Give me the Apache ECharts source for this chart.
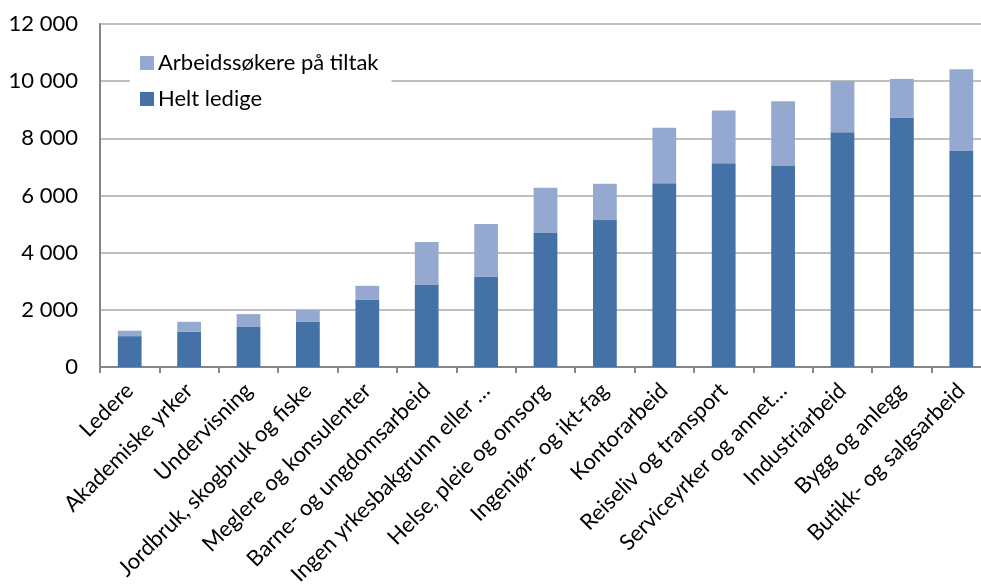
<!DOCTYPE html>
<html>
<head>
<meta charset="utf-8">
<script src="https://cdn.jsdelivr.net/npm/echarts@6/dist/echarts.min.js"></script>
<style>html,body{margin:0;padding:0;background:#fff}#c{width:981px;height:585px}</style>
</head>
<body>
<div id="c"></div>
<script>
var categories = ["Ledere","Akademiske yrker","Undervisning","Jordbruk, skogbruk og fiske","Meglere og konsulenter","Barne- og ungdomsarbeid","Ingen yrkesbakgrunn eller …","Helse, pleie og omsorg","Ingeniør- og ikt-fag","Kontorarbeid","Reiseliv og transport","Serviceyrker og annet…","Industriarbeid","Bygg og anlegg","Butikk- og salgsarbeid"];
var heltLedige = [1080,1230,1400,1580,2350,2870,3170,4690,5140,6430,7130,7030,8210,8730,7560];
var tiltak = [190,350,450,410,490,1500,1830,1580,1270,1940,1840,2270,1800,1350,2860];
var yTicks = {min:0, max:12000, interval:2000};

var FONT = 'Lato';
var chart = echarts.init(document.getElementById('c'));
chart.setOption({
  animation:false,
  textStyle:{fontFamily:FONT},
  grid:{left:100, right:-10, top:24, bottom:218, containLabel:false, outerBoundsMode:'none'},
  legend:{
    orient:'vertical', left:130, top:45,
    padding:[7,13,7,10], backgroundColor:'#fff',
    itemWidth:14, itemHeight:14, itemGap:14,
    icon:'rect',
    textStyle:{fontFamily:FONT, fontSize:22, color:'#000', lineHeight:20, padding:[0,0,0,-1]},
    data:['Arbeidssøkere på tiltak','Helt ledige']
  },
  xAxis:{
    type:'category', data:categories,
    axisLine:{lineStyle:{color:'#868686', width:2}},
    axisTick:{show:true, length:6, lineStyle:{color:'#868686', width:2}},
    axisLabel:{rotate:45, fontFamily:FONT, fontSize:22, color:'#000', margin:20, interval:0}
  },
  yAxis:{
    type:'value', min:yTicks.min, max:yTicks.max, interval:yTicks.interval,
    axisLine:{show:true, lineStyle:{color:'#868686', width:2}},
    axisTick:{show:false},
    splitLine:{lineStyle:{color:'#BFBFBF', width:2}},
    axisLabel:{fontFamily:FONT, fontSize:22, color:'#000', margin:22,
      formatter:function(v){return String(v).replace(/\B(?=(\d{3})+(?!\d))/g,' ');}}
  },
  series:[
    {name:'Helt ledige', type:'bar', stack:'a', data:heltLedige, barWidth:'40%',
     itemStyle:{color:'#4472A7'}},
    {name:'Arbeidssøkere på tiltak', type:'bar', stack:'a', data:tiltak, barWidth:'40%',
     itemStyle:{color:'#95A9D0'}}
  ]
});
</script>
</body>
</html>
